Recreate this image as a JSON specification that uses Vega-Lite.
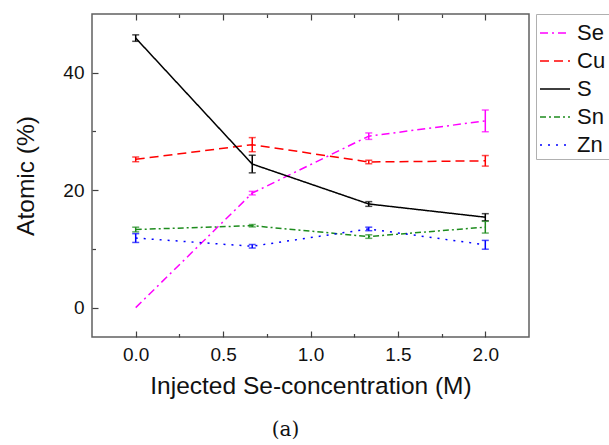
{
  "$schema": "https://vega.github.io/schema/vega-lite/v6.json",
  "width": 437,
  "height": 323,
  "autosize": "none",
  "padding": {"left": 92, "top": 14, "right": 80, "bottom": 108},
  "background": "white",
  "config": {
    "font": "Liberation Sans",
    "view": {"stroke": "#606060", "strokeWidth": 1.5},
    "axis": {"grid": false, "domain": false, "labelColor": "#111", "titleColor": "#111", "tickColor": "#404040", "tickWidth": 1.2, "zindex": 2}
  },
  "title": {
    "text": "(a)",
    "orient": "bottom",
    "anchor": "middle",
    "frame": "group",
    "font": "DejaVu Serif",
    "fontSize": 20,
    "fontWeight": "normal",
    "color": "#111",
    "offset": 22,
    "dx": -25
  },
  "data": {
    "values": [
      {"element": "Se", "x": 0, "v": 0, "e": 0},
      {"element": "Se", "x": 0.6667, "v": 19.5, "e": 0.3},
      {"element": "Se", "x": 1.3333, "v": 29.2, "e": 0.55},
      {"element": "Se", "x": 2, "v": 31.8, "e": 1.85},
      {"element": "Cu", "x": 0, "v": 25.25, "e": 0.4},
      {"element": "Cu", "x": 0.6667, "v": 27.75, "e": 1.2},
      {"element": "Cu", "x": 1.3333, "v": 24.8, "e": 0.3},
      {"element": "Cu", "x": 2, "v": 25.0, "e": 0.9},
      {"element": "S", "x": 0, "v": 45.9, "e": 0.55},
      {"element": "S", "x": 0.6667, "v": 24.45, "e": 1.5},
      {"element": "S", "x": 1.3333, "v": 17.65, "e": 0.4},
      {"element": "S", "x": 2, "v": 15.4, "e": 0.6},
      {"element": "Sn", "x": 0, "v": 13.3, "e": 0.4},
      {"element": "Sn", "x": 0.6667, "v": 13.95, "e": 0.2},
      {"element": "Sn", "x": 1.3333, "v": 12.1, "e": 0.3},
      {"element": "Sn", "x": 2, "v": 13.7, "e": 1.0},
      {"element": "Zn", "x": 0, "v": 11.85, "e": 0.75},
      {"element": "Zn", "x": 0.6667, "v": 10.45, "e": 0.3},
      {"element": "Zn", "x": 1.3333, "v": 13.4, "e": 0.3},
      {"element": "Zn", "x": 2, "v": 10.7, "e": 0.75}
    ]
  },
  "layer": [
    {
      "mark": {"type": "line", "strokeWidth": 1.5},
      "encoding": {
        "x": {
          "field": "x", "type": "quantitative",
          "scale": {"domain": [-0.25, 2.25], "nice": false, "zero": false},
          "axis": {"orient": "bottom", "values": [0, 0.5, 1, 1.5, 2], "format": ".1f", "ticks": false, "labelFontSize": 19, "labelPadding": 8, "title": "Injected Se-concentration (M)", "titleFontSize": 24.5, "titleFontWeight": "normal", "titlePadding": 10}
        },
        "y": {
          "field": "v", "type": "quantitative",
          "scale": {"domain": [-5, 50], "nice": false, "zero": false},
          "axis": {"orient": "left", "values": [0, 20, 40], "ticks": false, "labelFontSize": 19, "labelPadding": 8, "title": "Atomic (%)", "titleFontSize": 24.5, "titleFontWeight": "normal", "titlePadding": 24}
        },
        "color": {
          "field": "element", "type": "nominal",
          "scale": {"domain": ["Se", "Cu", "S", "Sn", "Zn"], "range": ["#ff00ff", "#ff0000", "#000000", "#1e8c1e", "#0000ff"]},
          "legend": {
            "title": null, "orient": "none", "legendX": 444, "legendY": 0,
            "symbolType": "stroke", "symbolSize": 900, "symbolStrokeWidth": 1.5,
            "labelFontSize": 22, "labelColor": "#111", "labelOffset": 6, "rowPadding": 1,
            "padding": 3, "strokeColor": "#b0b0b0", "fillColor": "white"
          }
        },
        "strokeDash": {
          "field": "element", "type": "nominal",
          "scale": {"domain": ["Se", "Cu", "S", "Sn", "Zn"], "range": [[8, 4, 2, 4], [9, 5], [1, 0], [6, 3, 2, 3], [2, 6]]},
          "legend": {
            "title": null, "orient": "none", "legendX": 444, "legendY": 0,
            "symbolType": "stroke", "symbolSize": 900, "symbolStrokeWidth": 1.5,
            "labelFontSize": 22, "labelColor": "#111", "labelOffset": 6, "rowPadding": 1,
            "padding": 3, "strokeColor": "#b0b0b0", "fillColor": "white"
          }
        }
      }
    },
    {
      "transform": [{"filter": "datum.e > 0"}],
      "mark": {"type": "errorbar", "ticks": {"size": 7}, "thickness": 1.5},
      "encoding": {
        "x": {"field": "x", "type": "quantitative", "axis": {"orient": "bottom", "values": [0, 0.5, 1, 1.5, 2], "labels": false, "ticks": true, "tickSize": 6, "offset": -6, "title": null}},
        "y": {"field": "v", "type": "quantitative", "axis": {"orient": "left", "values": [0, 20, 40], "labels": false, "ticks": true, "tickSize": 6, "offset": -6, "title": null}},
        "yError": {"field": "e"},
        "color": {"field": "element", "type": "nominal", "legend": null}
      }
    },
    {
      "mark": {"type": "point", "opacity": 0},
      "encoding": {
        "x": {"field": "x", "type": "quantitative", "axis": {"orient": "bottom", "values": [0.25, 0.75, 1.25, 1.75], "labels": false, "ticks": true, "tickSize": 3.5, "offset": -3.5, "title": null}},
        "y": {"field": "v", "type": "quantitative", "axis": {"orient": "left", "values": [10, 30], "labels": false, "ticks": true, "tickSize": 3.5, "offset": -3.5, "title": null}}
      }
    },
    {
      "mark": {"type": "point", "opacity": 0},
      "encoding": {
        "x": {"field": "x", "type": "quantitative", "axis": {"orient": "top", "values": [0, 0.5, 1, 1.5, 2], "labels": false, "ticks": true, "tickSize": 6, "offset": -6, "title": null}},
        "y": {"field": "v", "type": "quantitative", "axis": null}
      }
    },
    {
      "mark": {"type": "point", "opacity": 0},
      "encoding": {
        "x": {"field": "x", "type": "quantitative", "axis": {"orient": "top", "values": [0.25, 0.75, 1.25, 1.75], "labels": false, "ticks": true, "tickSize": 3.5, "offset": -3.5, "title": null}},
        "y": {"field": "v", "type": "quantitative", "axis": null}
      }
    }
  ],
  "resolve": {"axis": {"x": "independent", "y": "independent"}}
}
